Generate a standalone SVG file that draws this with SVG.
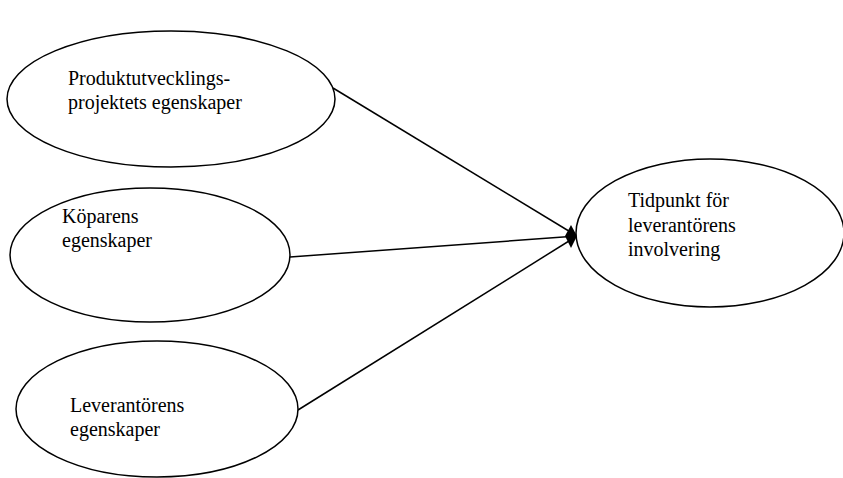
<svg xmlns="http://www.w3.org/2000/svg" width="843" height="478" viewBox="0 0 843 478">
<style>
.n ellipse{fill:#fff;stroke:#000;stroke-width:1.5}
.n text{font-family:"Liberation Serif","Times New Roman",serif;font-size:20px;fill:#000}
.c line{stroke:#000;stroke-width:1.5}
</style>
<rect width="843" height="478" fill="#fff"/>
<g class="c" id="connectors">
<line x1="333" y1="88" x2="577" y2="236" />
<line x1="290" y1="257" x2="577" y2="236" />
<line x1="298" y1="410" x2="577" y2="236" />
<path d="M571,225 L577,236 L571,248 L565,236 Z" fill="#000"/>
</g>
<g class="n" id="n1">
<ellipse cx="171" cy="99" rx="164" ry="68"/>
<text x="68" y="85">Produktutvecklings-</text>
<text x="68" y="109">projektets egenskaper</text>
</g>
<g class="n" id="n2">
<ellipse cx="150" cy="255" rx="140" ry="67"/>
<text x="62" y="223">Köparens</text>
<text x="62" y="247">egenskaper</text>
</g>
<g class="n" id="n3">
<ellipse cx="157" cy="409" rx="141" ry="68"/>
<text x="70" y="412">Leverantörens</text>
<text x="70" y="436">egenskaper</text>
</g>
<g class="n" id="n4">
<ellipse cx="710" cy="233" rx="134" ry="74"/>
<text x="628" y="207">Tidpunkt för</text>
<text x="628" y="232">leverantörens</text>
<text x="628" y="256">involvering</text>
</g>
</svg>
